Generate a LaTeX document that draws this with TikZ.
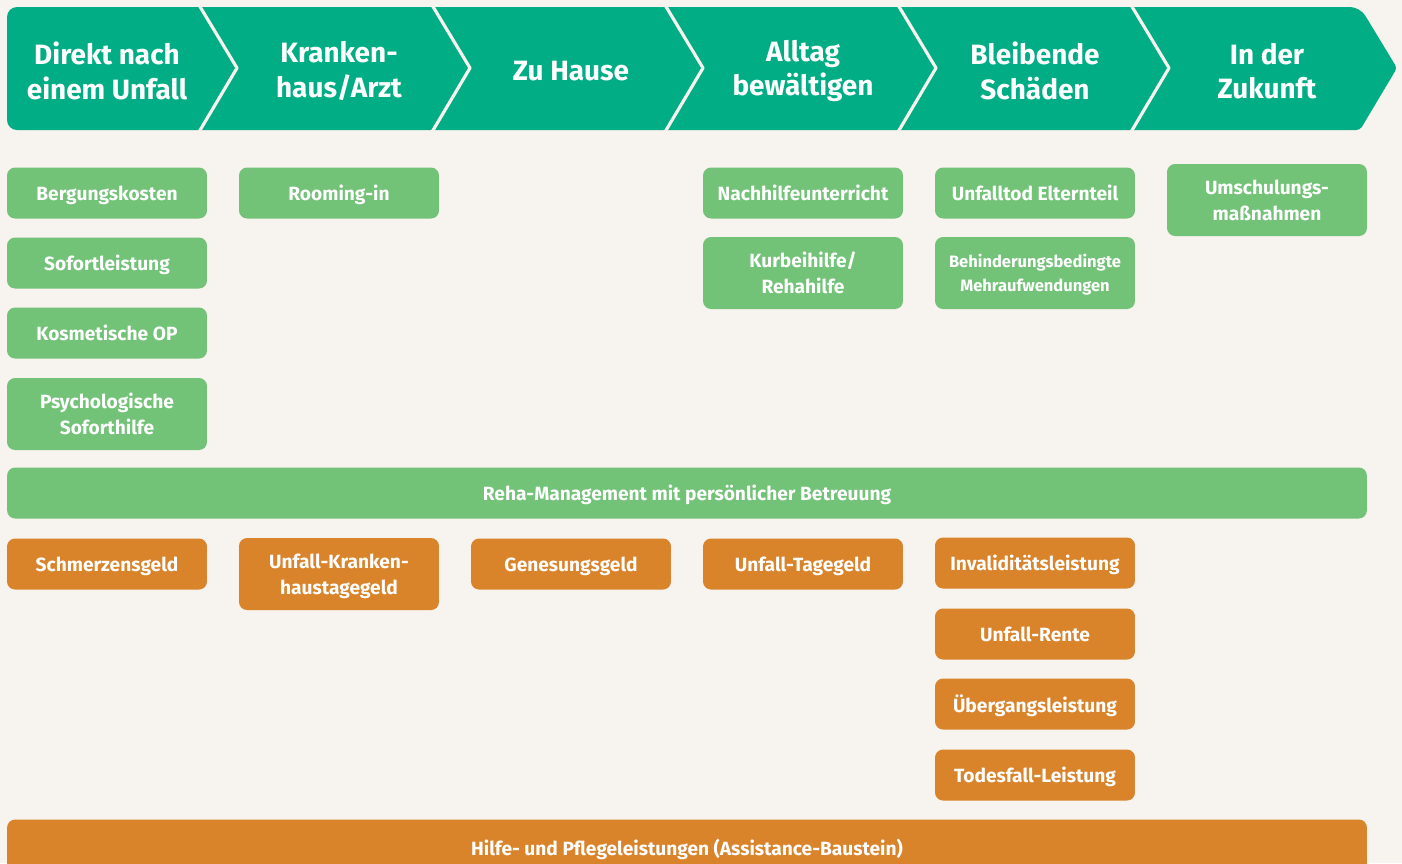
\documentclass[tikz,border=0pt]{standalone}
\usepackage{fontspec}
\setmainfont{Fira Sans}
\usetikzlibrary{positioning}

\definecolor{bgcol}{HTML}{F7F3EE}
\definecolor{headcol}{HTML}{00AD84}
\definecolor{leafcol}{HTML}{72C277}
\definecolor{paycol}{HTML}{D9832A}

\begin{document}
\begin{tikzpicture}[
                                        x=0.02cm, y=-0.02cm,
                                        head/.style={text=white, font=\fontsize{15.9}{19.5}\selectfont\bfseries, align=center},
                                        card/.style={rounded corners=0.16cm, text=white, align=center, minimum width=4cm, minimum height=1.02cm, inner sep=2pt, text depth=0pt, font=\fontsize{10.9}{14.6}\selectfont\bfseries},
                                        gcard/.style={card, fill=leafcol},
                                        ocard/.style={card, fill=paycol},
                                        tall/.style={minimum height=1.44cm}
                                ]
                                \useasboundingbox (0,0) rectangle (1402,863);
                                \fill[bgcol] (0,0) rectangle (1402,863);
                                % Phasen
                                \fill[headcol] (7,68) [rounded corners=0.2cm] -- (7,7) -- (1360,7) [rounded corners=2pt] -- (1397,68) -- (1360,130) [rounded corners=0.2cm] -- (7,130) -- cycle;
                                \foreach \d in {200,433,666,899,1132}
                                        \draw[bgcol, line width=1.8pt, line join=round] (\d-4,0) -- (\d+37,68) -- (\d-4,137);
                                \node[head] (h1) at (107,71) {Direkt nach\\einem Unfall};
                                \node[head] (h2) at (339,71) {Kranken-\\haus/Arzt};
                                \node[head] (h3) at (571,71) {Zu Hause};
                                \node[head] (h4) at (803,71) {Alltag\\bewältigen};
                                \node[head] (h5) at (1035,71) {Bleibende\\Schäden};
                                \node[head] (h6) at (1267,71) {In der\\Zukunft};
                                % Leistungen
                                \node[gcard] (berg) at (107,193) {Bergungskosten};
                                \node[gcard] (sofort) at (107,263) {Sofortleistung};
                                \node[gcard] (kosm) at (107,333) {Kosmetische OP};
                                \node[gcard, tall] (psych) at (107,414) {Psychologische\\Soforthilfe};
                                \node[gcard] (room) at (339,193) {Rooming-in};
                                \node[gcard] (nachhilfe) at (803,193) {Nachhilfeunterricht};
                                \node[gcard, tall] (kur) at (803,273) {Kurbeihilfe/\\Rehahilfe};
                                \node[gcard] (eltern) at (1035,193) {Unfalltod Elternteil};
                                \node[gcard, tall, font=\fontsize{9.4}{13.5}\selectfont\bfseries] (behind) at (1035,273) {Behinderungsbedingte\\Mehraufwendungen};
                                \node[gcard, tall] (umschul) at (1267,200) {Umschulungs-\\maßnahmen};
                                \node[gcard, minimum width=27.2cm] (reha) at (687,493) {Reha-Management mit persönlicher Betreuung};
                                \node[ocard] (schmerz) at (107,564) {Schmerzensgeld};
                                \node[ocard, tall] (kranken) at (339,574) {Unfall-Kranken-\\haustagegeld};
                                \node[ocard] (genesung) at (571,564) {Genesungsgeld};
                                \node[ocard] (tagegeld) at (803,564) {Unfall-Tagegeld};
                                \node[ocard] (invalid) at (1035,563) {Invaliditätsleistung};
                                \node[ocard] (rente) at (1035,634) {Unfall-Rente};
                                \node[ocard] (uebergang) at (1035,704) {Übergangsleistung};
                                \node[ocard] (tod) at (1035,775) {Todesfall-Leistung};
                                \node[ocard, minimum width=27.2cm, minimum height=1.1cm] (hilfe) at (687,847) {Hilfe- und Pflegeleistungen (Assistance-Baustein)};
                        \end{tikzpicture}
\end{document}
